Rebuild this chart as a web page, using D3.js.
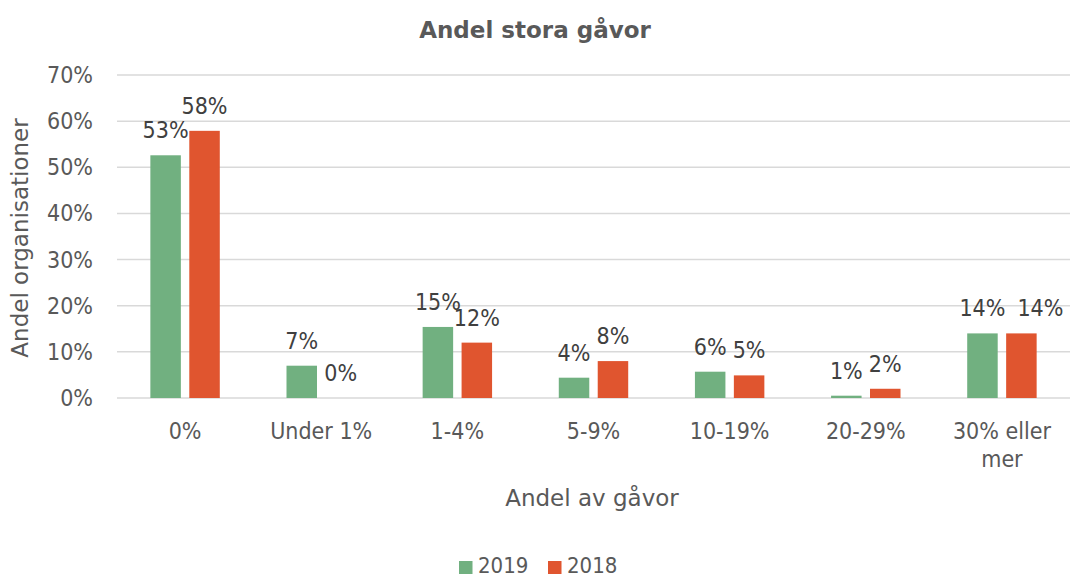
<!DOCTYPE html>
<html>
<head>
<meta charset="utf-8">
<script src="https://cdn.jsdelivr.net/npm/d3@7"></script>
<style>
  body { margin: 0; background: #fff; }
  text { font-family: "DejaVu Sans Condensed", "DejaVu Sans", sans-serif; font-stretch: condensed; fill: #595959; }
  .wide { font-family: "DejaVu Sans", sans-serif; font-stretch: normal; }
</style>
</head>
<body>
<script>
// chart data
const categories = ["0%", "Under 1%", "1-4%", "5-9%", "10-19%", "20-29%", "30% eller mer"];
const seriesNames = ["2019", "2018"];
const values2019 = [52.6, 7.0, 15.4, 4.4, 5.7, 0.5, 14.0];
const values2018 = [57.9, 0.0, 12.0, 8.0, 4.9, 2.0, 14.0];
const yTicks = [0, 10, 20, 30, 40, 50, 60, 70];
const colors = ["#71b080", "#e0552f"];

const width = 1072;
const height = 577;
const margin = { left: 117, right: 2, top: 75, bottom: 179 };

const svg = d3.select("body").append("svg")
    .attr("width", width)
    .attr("height", height);

const x = d3.scaleBand()
    .domain(categories)
    .range([margin.left, width - margin.right]);

const y = d3.scaleLinear()
    .domain([0, 70])
    .range([height - margin.bottom, margin.top]);

// gridlines
svg.selectAll(".grid")
    .data(yTicks)
    .enter().append("line")
    .attr("x1", margin.left)
    .attr("x2", width - margin.right)
    .attr("y1", d => y(d))
    .attr("y2", d => y(d))
    .attr("stroke", "#d9d9d9")
    .attr("stroke-width", 1.5);

// y tick labels
svg.selectAll(".ytick")
    .data(yTicks)
    .enter().append("text")
    .attr("x", 93)
    .attr("y", d => y(d) + 8)
    .attr("text-anchor", "end")
    .style("font-size", "23px")
    .text(d => d + "%");

const bw = x.bandwidth() * 0.224;
const gap = x.bandwidth() * 0.062;

const series = [values2019, values2018];
const labelSel = [];
series.forEach((vals, si) => {
    const offset = si === 0 ? -(gap / 2 + bw) : gap / 2;
    const g = svg.append("g");
    g.selectAll("rect")
        .data(categories)
        .enter().append("rect")
        .attr("x", (d, i) => x(d) + x.bandwidth() / 2 + offset)
        .attr("y", (d, i) => y(vals[i]))
        .attr("width", bw)
        .attr("height", (d, i) => y(0) - y(vals[i]))
        .attr("fill", colors[si]);
    labelSel.push(g.selectAll("text")
        .data(categories)
        .enter().append("text")
        .attr("x", (d, i) => x(d) + x.bandwidth() / 2 + offset + bw / 2)
        .attr("y", (d, i) => y(vals[i]) - 17)
        .attr("text-anchor", "middle")
        .style("font-size", "23px")
        .style("fill", "#404040")
        .text((d, i) => Math.round(vals[i]) + "%"));
});

// push the second label right when it collides with the first one
const firstNodes = labelSel[0].nodes();
labelSel[1].each(function(d, i) {
    const a = firstNodes[i].getBBox();
    const b = this.getBBox();
    if (Math.abs(a.y - b.y) < 10 && b.x < a.x + a.width) {
        const shift = a.x + a.width + 12 - b.x;
        d3.select(this).attr("x", +d3.select(this).attr("x") + shift);
    }
});

// x axis labels
svg.selectAll(".xtick")
    .data(categories)
    .enter().append("text")
    .attr("x", d => x(d) + x.bandwidth() / 2)
    .attr("y", 439)
    .attr("text-anchor", "middle")
    .style("font-size", "23px")
    .each(function(d) {
        const parts = d === "30% eller mer" ? ["30% eller", "mer"] : [d];
        parts.forEach((p, k) => {
            d3.select(this).append("tspan")
                .attr("x", x(d) + x.bandwidth() / 2)
                .attr("dy", k === 0 ? 0 : 27.5)
                .text(p);
        });
    });

// title
svg.append("text")
    .attr("class", "wide")
    .attr("x", 535)
    .attr("y", 38)
    .attr("text-anchor", "middle")
    .style("font-size", "23px")
    .style("font-weight", "bold")
    .text("Andel stora gåvor");

// axis titles
svg.append("text")
    .attr("class", "wide")
    .attr("x", 592)
    .attr("y", 506)
    .attr("text-anchor", "middle")
    .style("font-size", "23px")
    .text("Andel av gåvor");

svg.append("text")
    .attr("class", "wide")
    .attr("transform", "translate(28,238) rotate(-90)")
    .attr("text-anchor", "middle")
    .style("font-size", "23px")
    .text("Andel organisationer");

// legend
const legendX = [459, 548];
seriesNames.forEach((s, i) => {
    svg.append("rect")
        .attr("x", legendX[i])
        .attr("y", 561)
        .attr("width", 13.5)
        .attr("height", 13)
        .attr("fill", colors[i]);
    svg.append("text")
        .attr("x", legendX[i] + 19)
        .attr("y", 573)
        .style("font-size", "22px")
        .text(s);
});
</script>
</body>
</html>
